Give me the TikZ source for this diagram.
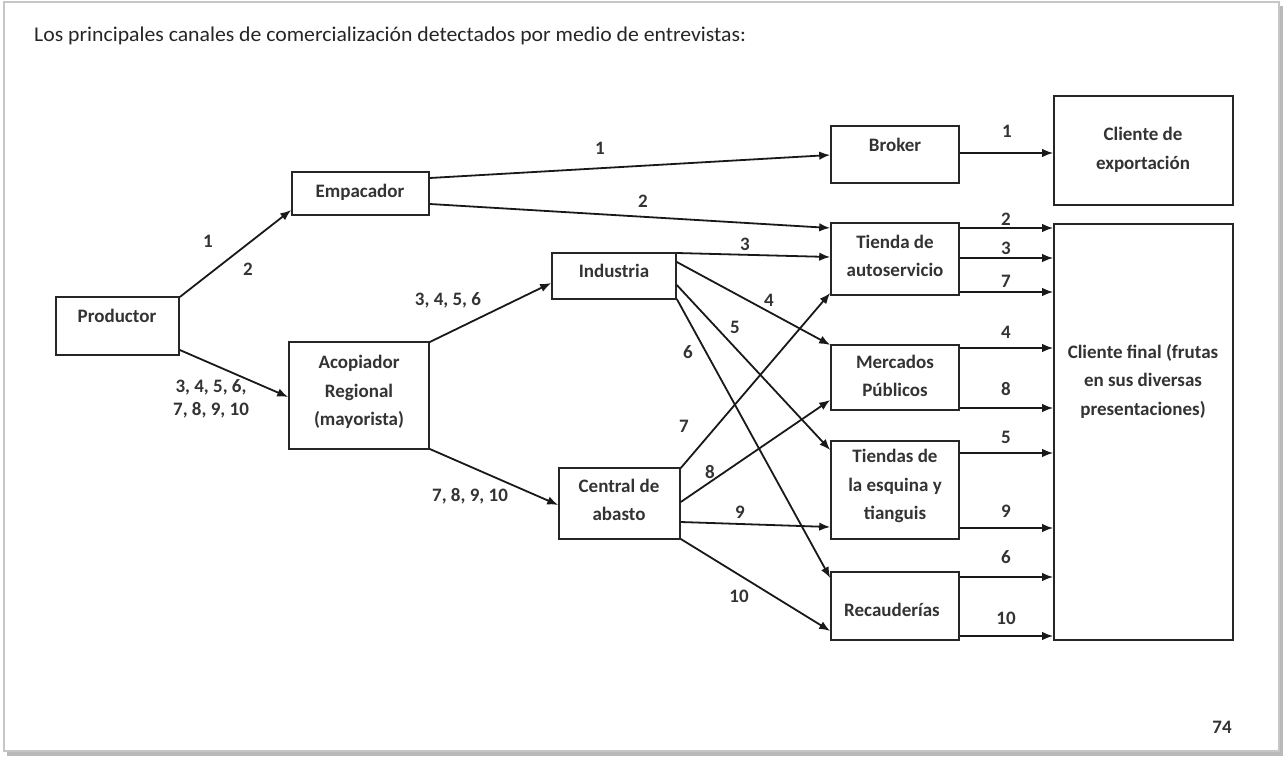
\documentclass[tikz,border=0pt]{standalone}
\usepackage{fontspec}
\setmainfont{Carlito}
\usetikzlibrary{arrows.meta,fit}
\tikzset{
  boxs/.style={draw=black!85, line width=1.6pt, inner sep=0pt, fill=none},
  txt/.style={text=black!80, font=\bfseries\fontsize{19}{28.5}\selectfont, align=center, inner sep=0pt},
  num/.style={text=black!80, font=\bfseries\fontsize{19}{23}\selectfont, align=center, inner sep=0pt},
  arr/.style={draw=black!90, line width=1.8pt, -{Latex[length=11pt,width=8.5pt]}}
}
\begin{document}
\begin{tikzpicture}[x=1pt,y=-1pt]
\useasboundingbox (0,0) rectangle (1285,759);
% frame
\fill[gray!55] (7,6) rectangle (1283,756);
\fill[white, draw=gray!45, line width=1.2pt] (4,2) rectangle (1279,751);
% title
\node[anchor=west, text=black!85, font=\fontsize{21}{24}\selectfont, inner sep=0pt, xscale=1.035] (title) at (34,36)
  {Los principales canales de comercializaci\'on detectados por medio de entrevistas:};
% boxes
\node[boxs, fit={(56,297)(179,355)}] (prod) {};
\node[boxs, fit={(292,172)(429,215)}] (emp) {};
\node[boxs, fit={(289,342)(429,449)}] (aco) {};
\node[boxs, fit={(552,253)(676,299)}] (ind) {};
\node[boxs, fit={(559,468)(680,539)}] (cen) {};
\node[boxs, fit={(831,126)(959,183)}] (bro) {};
\node[boxs, fit={(831,223)(959,295)}] (tie) {};
\node[boxs, fit={(831,345)(959,410)}] (mer) {};
\node[boxs, fit={(831,441)(959,539)}] (esq) {};
\node[boxs, fit={(831,572)(959,640)}] (rec) {};
\node[boxs, fit={(1054,96)(1233,205)}] (cex) {};
\node[boxs, fit={(1054,224)(1233,640)}] (cfi) {};
% box texts
\node[txt] (prodT) at (117,316) {Productor};
\node[txt] (empT) at (360,192) {Empacador};
\node[txt] (acoT) at (359,392) {Acopiador\\Regional\\(mayorista)};
\node[txt] (indT) at (614,271) {Industria};
\node[txt] (cenT) at (619,500) {Central de\\abasto};
\node[txt] (broT) at (895,145) {Broker};
\node[txt] (tieT) at (895,256) {Tienda de\\autoservicio};
\node[txt] (merT) at (895,376) {Mercados\\P\'ublicos};
\node[txt] (esqT) at (895,486) {Tiendas de\\la esquina y\\tianguis};
\node[txt] (recT) at (892,610) {Recauder\'ias};
\node[txt] (cexT) at (1143,150) {Cliente de\\exportaci\'on};
\node[txt] (cfiT) at (1143,381) {Cliente final (frutas\\en sus diversas\\presentaciones)};
% arrows left part
\draw[arr] (prod.east |- 0,297) -- (emp.west |- 0,210);
\draw[arr] (prod.east |- 0,350) -- (aco.west |- 0,397);
\draw[arr] (emp.east |- 0,178) -- (bro.west |- 0,155);
\draw[arr] (emp.east |- 0,204) -- (tie.west |- 0,228);
\draw[arr] (aco.east |- 0,342) -- (ind.west |- 0,283);
\draw[arr] (aco.east |- 0,449) -- (cen.west |- 0,505);
% industria
\draw[arr] (ind.east |- 0,253) -- (tie.west |- 0,257);
\draw[arr] (ind.east |- 0,262) -- (mer.west |- 0,345);
\draw[arr] (ind.east |- 0,285) -- (esq.west |- 0,450);
\draw[arr] (ind.east |- 0,299) -- (rec.west |- 0,578);
% central
\draw[arr] (cen.east |- 0,468) -- (tie.west |- 0,293);
\draw[arr] (cen.east |- 0,502) -- (mer.west |- 0,400);
\draw[arr] (cen.east |- 0,522) -- (esq.west |- 0,527);
\draw[arr] (cen.east |- 0,539) -- (rec.west |- 0,631);
% right
\draw[arr] (bro.east |- 0,153) -- (cex.west |- 0,153);
\draw[arr] (tie.east |- 0,228) -- (cfi.west |- 0,228);
\draw[arr] (tie.east |- 0,258) -- (cfi.west |- 0,258);
\draw[arr] (tie.east |- 0,292) -- (cfi.west |- 0,292);
\draw[arr] (mer.east |- 0,348) -- (cfi.west |- 0,348);
\draw[arr] (mer.east |- 0,408) -- (cfi.west |- 0,408);
\draw[arr] (esq.east |- 0,453) -- (cfi.west |- 0,453);
\draw[arr] (esq.east |- 0,528) -- (cfi.west |- 0,528);
\draw[arr] (rec.east |- 0,577) -- (cfi.west |- 0,577);
\draw[arr] (rec.east |- 0,636) -- (cfi.west |- 0,636);
% labels
\node[num] (l1) at (208,241) {1};
\node[num] (l2) at (248,269) {2};
\node[num] (l3) at (211,399) {3, 4, 5, 6,\\7, 8, 9, 10};
\node[num] (l4) at (600,148) {1};
\node[num] (l5) at (643,201) {2};
\node[num] (l6) at (448,300) {3, 4, 5, 6};
\node[num] (l7) at (470,496) {7, 8, 9, 10};
\node[num] (m3) at (745,244) {3};
\node[num] (m4) at (769,300) {4};
\node[num] (m5) at (735,327) {5};
\node[num] (m6) at (688,352) {6};
\node[num] (m7) at (684,426) {7};
\node[num] (m8) at (710,472) {8};
\node[num] (m9) at (740,512) {9};
\node[num] (m10) at (739,596) {10};
\node[num] (r1) at (1007,131) {1};
\node[num] (r2) at (1006,219) {2};
\node[num] (r3) at (1006,248) {3};
\node[num] (r7) at (1006,281) {7};
\node[num] (r4) at (1006,332) {4};
\node[num] (r8) at (1006,389) {8};
\node[num] (r5) at (1006,437) {5};
\node[num] (r9) at (1006,511) {9};
\node[num] (r6) at (1006,557) {6};
\node[num] (r10) at (1006,618) {10};
\node[num] (page) at (1222,727) {74};
\end{tikzpicture}
\end{document}
